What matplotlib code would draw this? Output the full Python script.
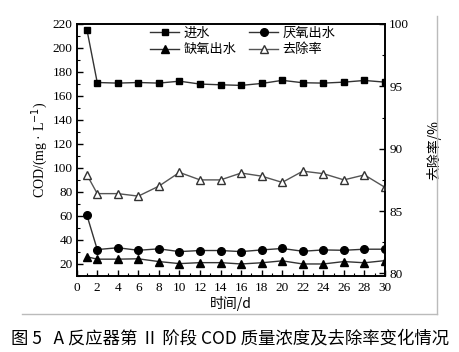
import numpy as np
import matplotlib.pyplot as plt
from matplotlib.lines import Line2D
from matplotlib.ticker import MultipleLocator

plt.rcParams['font.family'] = ['Liberation Serif', 'Noto Sans CJK SC', 'DejaVu Sans']
plt.rcParams['xtick.direction'] = 'in'
plt.rcParams['ytick.direction'] = 'in'
plt.rcParams['axes.unicode_minus'] = False

days = [1, 2, 4, 6, 8, 10, 12, 14, 16, 18, 20, 22, 24, 26, 28, 30]
influent = [215, 171.2, 170.7, 171.2, 170.7, 172.3, 169.9, 169.3, 168.8, 170.4, 173, 171, 170.7, 171.5, 172.9, 171.5]
anaerobic = [60.5, 32, 33.5, 31.4, 32.6, 30.3, 31.2, 31.2, 30.3, 31.7, 32.9, 30.6, 31.7, 31.4, 32.3, 32.3]
anoxic = [26, 24, 24, 24.3, 22, 20.3, 21.1, 21.1, 20, 21, 22.6, 20, 20, 22, 21, 22.8]
removal = [87.9, 86.4, 86.4, 86.2, 87.0, 88.1, 87.5, 87.5, 88.05, 87.8, 87.3, 88.2, 88.0, 87.5, 87.9, 86.9]

fig = plt.figure(figsize=(4.6, 3.52), dpi=100)
ax = fig.add_axes([0.1667, 0.216, 0.6703, 0.716])
ax2 = ax.twinx()

lc = '#333333'
h1, = ax.plot(days, influent, color=lc, lw=1, marker='s', ms=5, mfc='k', mec='k', label='进水')
h2, = ax.plot(days, anaerobic, color=lc, lw=1, marker='o', ms=5.5, mfc='k', mec='k', label='厌氧出水')
h3, = ax.plot(days, anoxic, color=lc, lw=1, marker='^', ms=6, mfc='k', mec='k', label='缺氧出水')
h4, = ax2.plot(days, removal, color='#555555', lw=1, marker='^', ms=6, mfc='white', mec='#333333', label='去除率')

ax.set_xlim(0, 30)
ax.set_ylim(10, 220)
ax2.set_ylim(79.8, 100)
ax.xaxis.set_major_locator(MultipleLocator(2))
ax.xaxis.set_minor_locator(MultipleLocator(1))
ax.yaxis.set_minor_locator(MultipleLocator(10))
ax2.yaxis.set_major_locator(MultipleLocator(5))
ax2.yaxis.set_minor_locator(MultipleLocator(2.5))
ax.set_yticks(range(20, 221, 20))

for a in (ax, ax2):
    a.tick_params(which='major', length=4, width=1, labelsize=9.5, pad=3)
    a.tick_params(which='minor', length=2, width=0.8)
    for s in a.spines.values():
        s.set_linewidth(1.2)
ax.tick_params(axis='x', pad=4)

ax.set_ylabel('COD/(mg · L$^{-1}$)', fontsize=10, labelpad=2)
ax.set_xlabel('时间/d', fontsize=10, labelpad=2, family=['Noto Sans CJK SC', 'Liberation Serif'])
ax2.set_ylabel('去除率/%', fontsize=10, labelpad=12, family=['Noto Sans CJK SC', 'Liberation Serif'])

# column-major fill: order so rows read 进水/厌氧出水, 缺氧出水/去除率
leg = ax.legend([h1, h3, h2, h4], ['进水', '缺氧出水', '厌氧出水', '去除率'], ncol=2, frameon=False,
                loc='upper left', bbox_to_anchor=(0.2, 1.035), handlelength=2.2, handletextpad=0.3,
                columnspacing=1.0, labelspacing=0.25,
                prop={'family': ['Noto Sans CJK SC'], 'size': 9.5})

# light frame lines of the original figure box
fig.add_artist(Line2D([22 / 460, 437 / 460], [1 - 314 / 352, 1 - 314 / 352], color='#bbbbbb', lw=1))
fig.add_artist(Line2D([437 / 460, 437 / 460], [1 - 314 / 352, 1 - 16 / 352], color='#bbbbbb', lw=1))

fig.text(0.5, 1 - 338 / 352, '图 5   A 反应器第 Ⅱ 阶段 COD 质量浓度及去除率变化情况',
         ha='center', va='center', fontsize=12.5, fontweight='medium',
         family=['Noto Sans CJK SC', 'DejaVu Sans'])

plt.savefig('out.png', dpi=100)
